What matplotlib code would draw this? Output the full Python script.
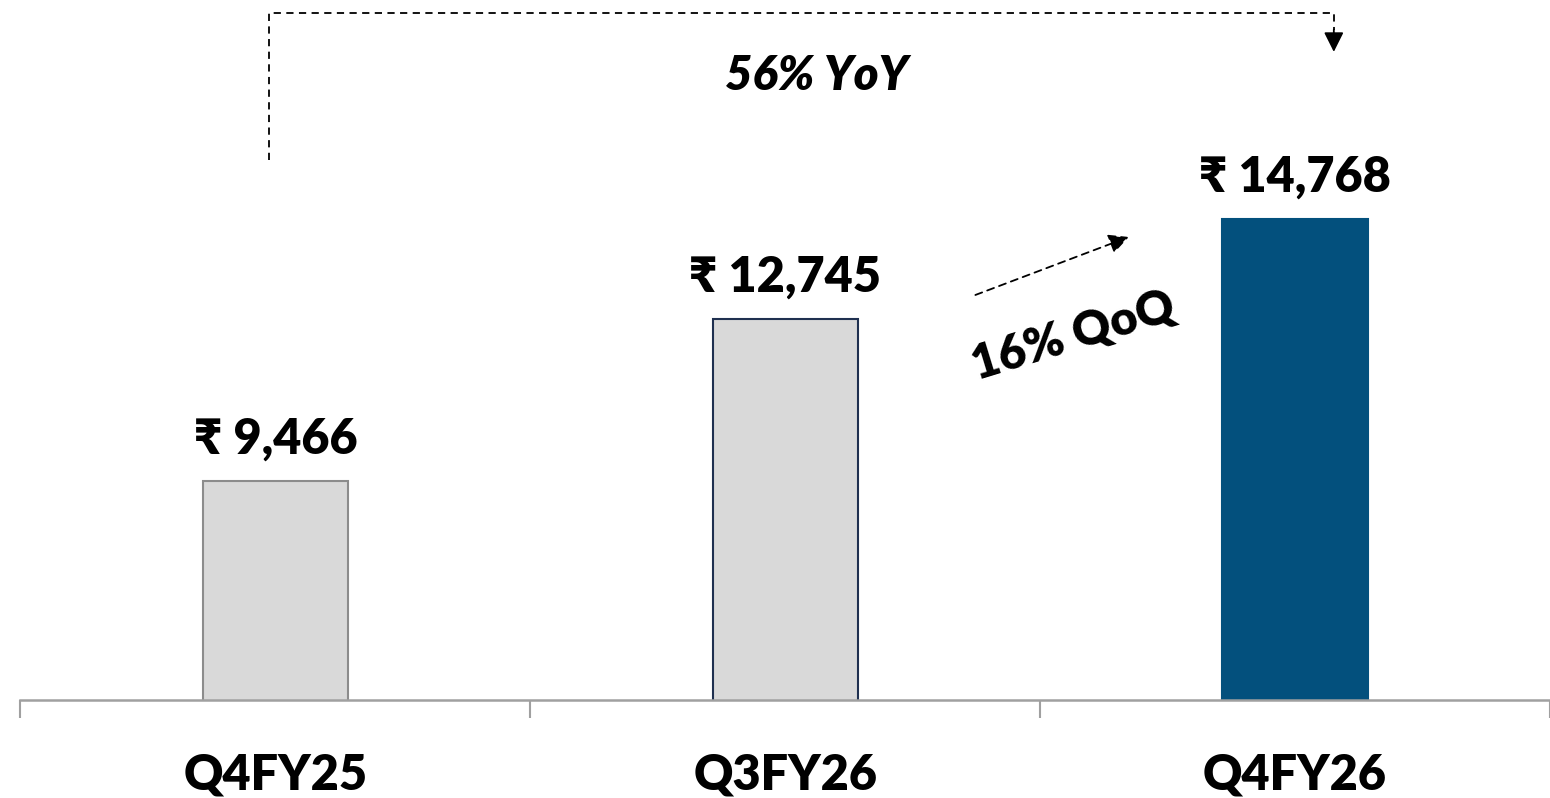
import matplotlib
matplotlib.use("Agg")
import matplotlib.pyplot as plt

plt.rcParams['font.family'] = ['Lato', 'Noto Sans', 'DejaVu Sans']

# quarterly figures (₹)
quarters = ['Q4FY25', 'Q3FY26', 'Q4FY26']
values = [9466, 12745, 14768]
yoy_text = '56% YoY'
qoq_text = '16% QoQ'

fill_colors = ['#D9D9D9', '#D9D9D9', '#03507D']
edge_colors = ['#8C8C8C', '#1F3050', '#03507D']

fig = plt.figure(figsize=(15.5, 7.98), dpi=100)
ax = fig.add_axes([0, 98 / 798, 1, 700 / 798])

x = list(range(len(quarters)))
ax.bar(x, values, width=0.285, color=fill_colors, edgecolor=edge_colors, linewidth=1.5, zorder=2)

ax.set_xlim(-0.54, 2.47)
ax.set_ylim(5033, 19200)

for s in ['top', 'right', 'left']:
    ax.spines[s].set_visible(False)
ax.spines['bottom'].set_color('#A0A0A0')
ax.spines['bottom'].set_linewidth(1.8)
ax.spines['bottom'].set_bounds(-0.5, 2.5)
ax.set_yticks([])

ax.set_xticks(x)
ax.set_xticklabels(quarters, fontsize=35, fontweight='heavy')
ax.tick_params(axis='x', which='major', length=0, pad=38)
ax.set_xticks([-0.5, 0.5, 1.5, 2.5], minor=True)
ax.tick_params(axis='x', which='minor', length=13, width=1.5, color='#A0A0A0', direction='out')

# value labels above bars
for xi, v in zip(x, values):
    ax.annotate(f'₹ {v:,}', (xi, v), xytext=(0, 14), textcoords='offset points',
                ha='center', va='bottom', fontsize=35, fontweight='heavy')

# YoY bracket from first to last bar
dash = dict(color='black', linewidth=1.3, linestyle=(0, (4, 3)))
top = 18940
x_left, x_right = x[0] - 0.012, x[2] + 0.076
ax.plot([x_left, x_left, x_right, x_right], [15960, top, top, 18600], **dash)
ax.annotate('', xy=(x_right, 18150), xytext=(x_right, 18600),
            arrowprops=dict(arrowstyle='-|>', color='black', lw=1.3, mutation_scale=30,
                            shrinkA=0, shrinkB=0))
ax.text(1.062, 17663, yoy_text, ha='center', va='center', fontsize=34,
        fontweight='heavy', fontstyle='italic')

# QoQ arrow between last two bars
ax.annotate('', xy=(1.674, 14404), xytext=(1.373, 13230),
            arrowprops=dict(arrowstyle='-|>', color='black', lw=1.3, linestyle=(0, (4, 3)),
                            mutation_scale=30, shrinkA=0, shrinkB=0))
ax.text(1.565, 12400, qoq_text, ha='center', va='center', fontsize=34,
        fontweight='heavy', rotation=17, rotation_mode='anchor')

fig.savefig('out.png', dpi=100)
